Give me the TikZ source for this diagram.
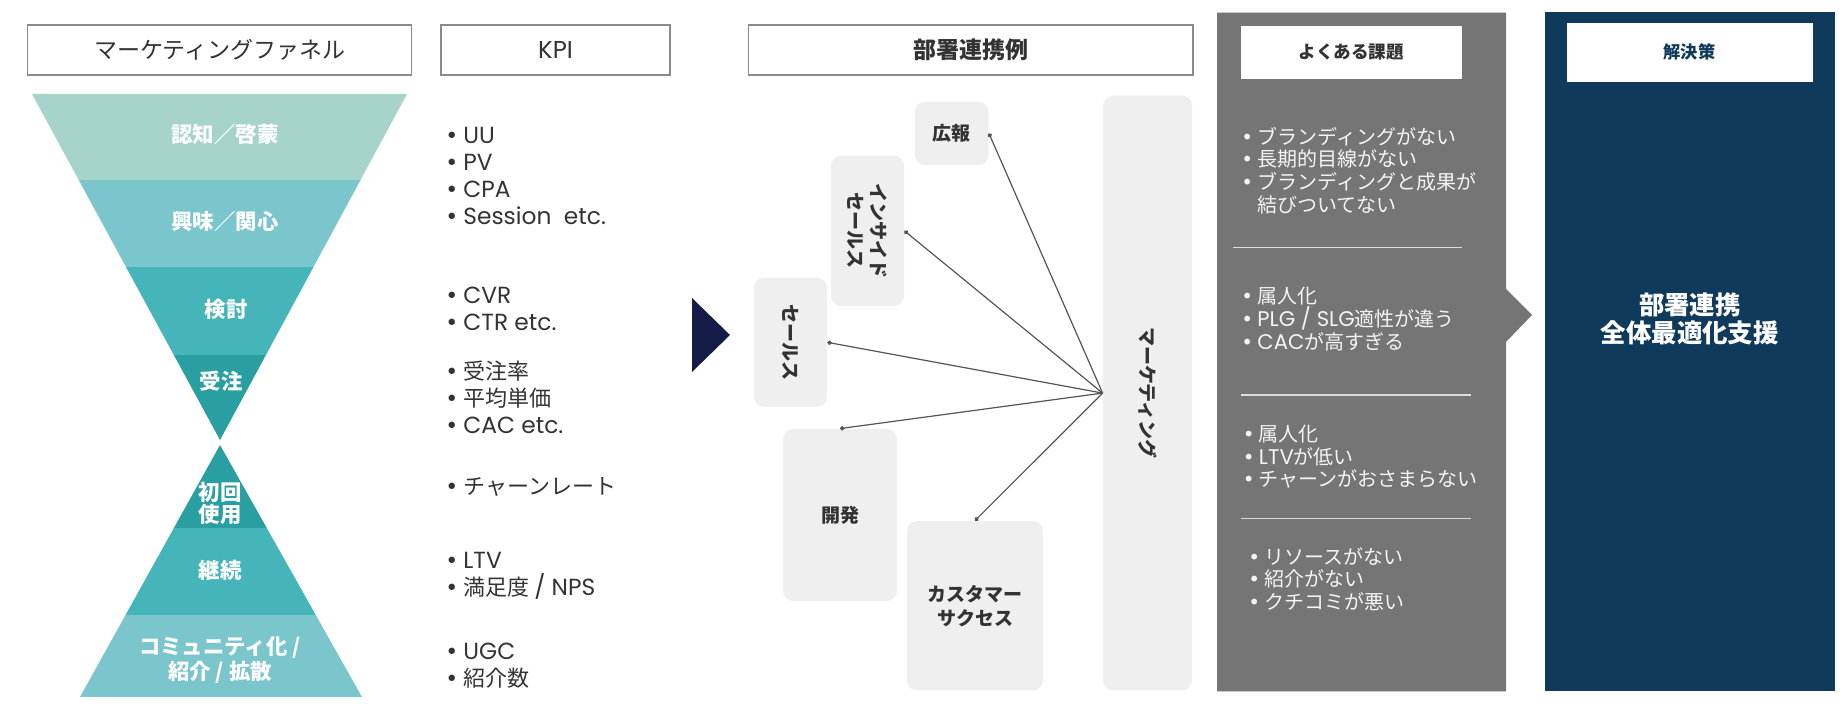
\documentclass[tikz,border=0pt]{standalone}
\usepackage{fontspec}
\setmainfont{Noto Sans CJK JP}
\newfontfamily\latf[Scale=1.06]{Poppins}
\newfontfamily\symf{DejaVu Sans}
\usetikzlibrary{arrows.meta, calc}
\definecolor{frame}{HTML}{8A8A8A}
\definecolor{ink}{HTML}{333333}
\definecolor{tealA}{HTML}{A6D4CB}
\definecolor{tealB}{HTML}{7BC6CD}
\definecolor{tealC}{HTML}{45B5B9}
\definecolor{tealD}{HTML}{2A9FA2}
\definecolor{boxgray}{HTML}{EFEFEF}
\definecolor{linkgray}{HTML}{555555}
\definecolor{arrownavy}{HTML}{161C48}
\definecolor{panelgray}{HTML}{757575}
\definecolor{panelnavy}{HTML}{0F3A5B}
\definecolor{rulegray}{HTML}{DCDCDC}
\definecolor{issuetxt}{HTML}{F4F4F4}
\newcommand{\kb}{\makebox[9pt][l]{\symf •}}
\newcommand{\ib}{\makebox[8pt][l]{\symf •}}

\begin{document}
\begin{tikzpicture}[
    x=0.5pt, y=-0.5pt,
    >={Circle[length=2.2pt]},
    every node/.style={text=ink, inner sep=0pt},
    hdr/.style={draw=frame, line width=0.6pt, fill=white, minimum height=25pt,
      font=\fontsize{11.5}{14}\selectfont},
    dept/.style={fill=boxgray, rounded corners=5pt, align=center,
      font=\bfseries\fontsize{9.5}{12}\selectfont},
    band/.style={text=white, align=center, font=\bfseries\fontsize{10.7}{11}\selectfont},
    kpi/.style={anchor=west, align=left, font=\fontsize{11}{13.5}\selectfont},
    issue/.style={anchor=west, align=left, text=issuetxt,
      font=\fontsize{10}{11.3}\selectfont},
    link/.style={linkgray, line width=0.6pt, ->},
  ]

  \useasboundingbox (0,0) rectangle (1848,704);

  % ══════════════════════════════════════════════════════
  % Column headers
  % ══════════════════════════════════════════════════════
  \node[hdr, minimum width=192pt] (hfunnel) at (219.6,50) {マーケティングファネル};
  \node[hdr, minimum width=114.5pt] (hkpi) at (555.5,50) {\latf KPI};
  \node[hdr, minimum width=222.2pt, font=\bfseries\fontsize{11.5}{14}\selectfont]
    (hdept) at (970.8,50) {部署連携例};

  % ══════════════════════════════════════════════════════
  % Funnel (upper) and bow-tie (lower)
  % ══════════════════════════════════════════════════════
  \coordinate (ftl) at (32,94);
  \coordinate (ftr) at (407,94);
  \coordinate (fap) at (220,440);
  \coordinate (bap) at (220,445);
  \coordinate (bbl) at (80,697);
  \coordinate (bbr) at (362,697);

  \begin{scope}
    \clip (ftl) -- (ftr) -- (fap) -- cycle;
    \fill[tealA] (0,90) rectangle (440,180);
    \fill[tealB] (0,180) rectangle (440,267);
    \fill[tealC] (0,267) rectangle (440,355);
    \fill[tealD] (0,355) rectangle (440,445);
  \end{scope}

  \begin{scope}
    \clip (bap) -- (bbr) -- (bbl) -- cycle;
    \fill[tealD] (0,440) rectangle (440,528);
    \fill[tealC] (0,528) rectangle (440,615);
    \fill[tealB] (0,615) rectangle (440,700);
  \end{scope}

  \node[band] (ninchi)  at (225,134) {認知／啓蒙};
  \node[band] (kyoumi)  at (225,221) {興味／関心};
  \node[band] (kentou)  at (226,309) {検討};
  \node[band] (juchu)   at (221,381) {受注};
  \node[band] (shokai)  at (220,503) {初回\\使用};
  \node[band] (keizoku) at (220,570) {継続};
  \node[band] (comm)    at (220,660) {コミュニティ化 /\\紹介 / 拡散};

  % ══════════════════════════════════════════════════════
  % KPI lists
  % ══════════════════════════════════════════════════════
  \node[kpi] (kpiA) at (445,175.5)
    {\kb{\latf UU}\\\kb{\latf PV}\\\kb{\latf CPA}\\\kb{\latf Session\ \ etc.}};
  \node[kpi] (kpiB) at (445,308.5) {\kb{\latf CVR}\\\kb{\latf CTR etc.}};
  \node[kpi] (kpiC) at (445,397) {\kb 受注率\\\kb 平均単価\\\kb{\latf CAC etc.}};
  \node[kpi] (kpiD) at (445,486.6) {\kb チャーンレート};
  \node[kpi] (kpiE) at (445,575.5) {\kb{\latf LTV}\\\kb 満足度 {\latf / NPS}};
  \node[kpi] (kpiF) at (445,665.5) {\kb{\latf UGC}\\\kb 紹介数};

  % ══════════════════════════════════════════════════════
  % Transition arrow
  % ══════════════════════════════════════════════════════
  \fill[arrownavy] (692,298) -- (730,335) -- (692,372) -- cycle;

  % ══════════════════════════════════════════════════════
  % Departments
  % ══════════════════════════════════════════════════════
  \node[dept, minimum width=36.75pt, minimum height=31.65pt] (kouhou)
    at (951.75,133.35) {広報};
  \node[dept, minimum width=36.5pt, minimum height=75.15pt,
        label={[rotate=-90, font=\bfseries\fontsize{9.5}{11.5}\selectfont, text=ink,
                align=center]center:インサイド\\セールス}]
    (inside) at (867.5,230.85) {};
  \node[dept, minimum width=36.5pt, minimum height=64.65pt,
        label={[rotate=-90, font=\bfseries\fontsize{9.5}{12}\selectfont, text=ink]center:セールス}]
    (sales) at (790.5,342.35) {};
  \node[dept, minimum width=57pt, minimum height=86pt] (kaihatsu)
    at (840,515) {開発};
  \node[dept, minimum width=68pt, minimum height=84.75pt] (cs)
    at (975,605.75) {カスタマー\\サクセス};
  \node[dept, minimum width=44.5pt, minimum height=297.4pt,
        label={[rotate=-90, font=\bfseries\fontsize{9.5}{12}\selectfont, text=ink]center:マーケティング}]
    (mkt) at (1147.5,393.1) {};

  % links from marketing hub
  \foreach \d in {kouhou, inside, sales}
    \draw[link] (mkt.west) -- (\d.east);
  \foreach \d in {kaihatsu, cs}
    \draw[link] (mkt.west) -- (\d.north);

  % ══════════════════════════════════════════════════════
  % Common issues panel
  % ══════════════════════════════════════════════════════
  \fill[panelgray] (1217,12.7) -- (1506,12.7) -- (1506,289) -- (1532,315)
    -- (1506,342) -- (1506,691.5) -- (1217,691.5) -- cycle;
  \node[fill=white, minimum width=110.3pt, minimum height=26.5pt,
        font=\bfseries\fontsize{8.8}{10}\selectfont] (tissue) at (1351.3,52.5) {よくある課題};

  \node[issue] (issA) at (1241,170.4)
    {\ib ブランディングがない\\\ib 長期的目線がない\\\ib ブランディングと成果が\\\makebox[8pt]{}結びついてない};
  \node[issue] (issB) at (1241,319)
    {\ib 属人化\\\ib{\latf PLG / SLG}適性が違う\\\ib{\latf CAC}が高すぎる};
  \node[issue] (issC) at (1242.5,457)
    {\ib 属人化\\\ib{\latf LTV}が低い\\\ib チャーンがおさまらない};
  \node[issue] (issD) at (1248,579)
    {\ib リソースがない\\\ib 紹介がない\\\ib クチコミが悪い};

  \draw[rulegray, line width=0.7pt] (1233,247.7) -- (1461.6,247.7);
  \draw[rulegray, line width=0.7pt] (1241,395) -- (1470.7,395);
  \draw[rulegray, line width=0.7pt] (1241,518.6) -- (1470.7,518.6);

  % ══════════════════════════════════════════════════════
  % Solution panel
  % ══════════════════════════════════════════════════════
  \fill[panelnavy] (1545,11.7) rectangle (1834.5,691.5);
  \node[fill=white, minimum width=122.95pt, minimum height=29.5pt, text=panelnavy,
        font=\bfseries\fontsize{8.6}{10}\selectfont] (tsol) at (1689.55,52.2) {解決策};
  \node[text=white, align=center, font=\bfseries\fontsize{12.7}{14}\selectfont]
    (sol) at (1689.8,319) {部署連携\\全体最適化支援};

\end{tikzpicture}
\end{document}
